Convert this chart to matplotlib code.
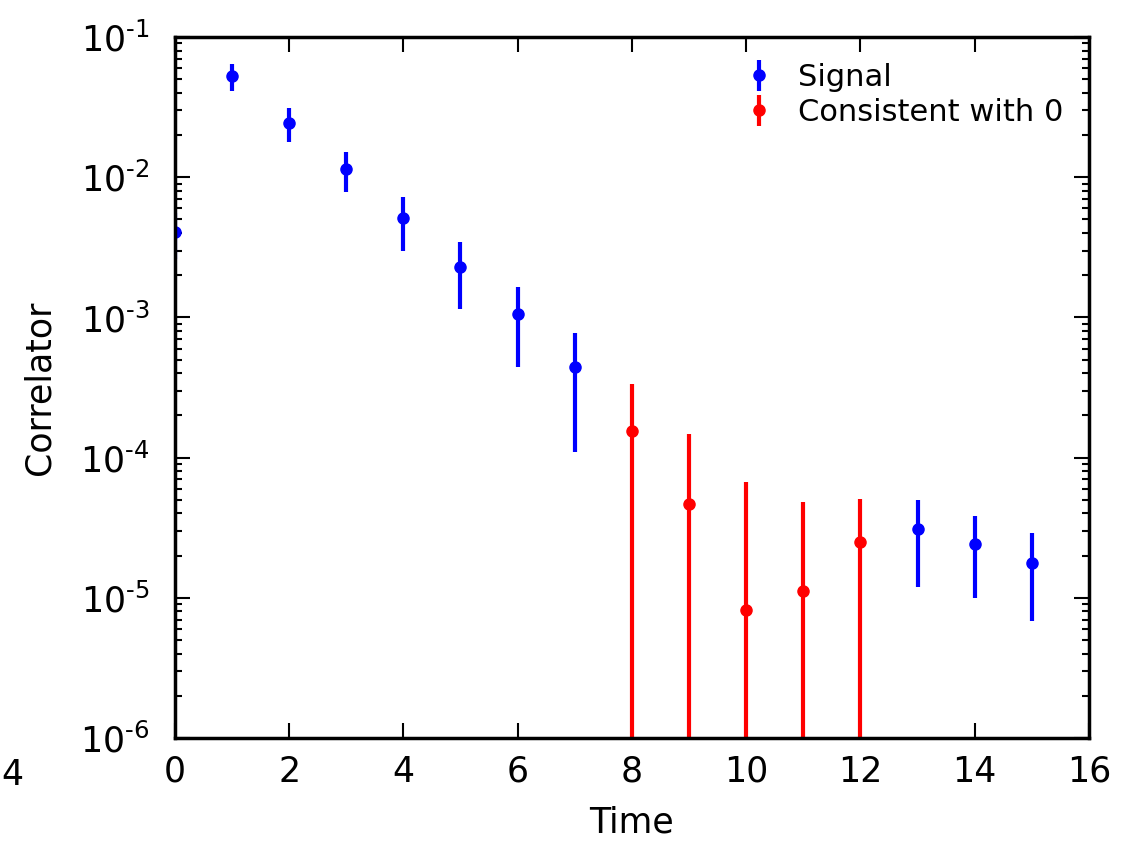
import numpy as np
import matplotlib
matplotlib.use("Agg")
import matplotlib.pyplot as plt
from matplotlib.ticker import FuncFormatter, LogLocator

# correlator values
t_signal = [0, 1, 2, 3, 4, 5, 6, 7, 13, 14, 15]
c_signal = [4.1e-3, 5.3e-2, 2.45e-2, 1.15e-2, 5.1e-3, 2.3e-3, 1.05e-3, 4.4e-4,
            3.1e-5, 2.42e-5, 1.78e-5]
e_signal = [1.5e-3, 1.15e-2, 6.7e-3, 3.7e-3, 2.1e-3, 1.15e-3, 6.1e-4, 3.3e-4,
            1.9e-5, 1.42e-5, 1.1e-5]

t_zero = [8, 9, 10, 11, 12]
c_zero = [1.55e-4, 4.7e-5, 8.2e-6, 1.12e-5, 2.5e-5]
e_zero = [1.78e-4, 1.0e-4, 5.9e-5, 3.7e-5, 2.55e-5]

plt.rcParams['font.family'] = 'DejaVu Sans'

fig = plt.figure(figsize=(11.35, 8.42), dpi=100)
ax = fig.add_axes([0.154, 0.1235, 0.8055, 0.8325])

ax.errorbar(t_signal, c_signal, yerr=e_signal, fmt='o', color='blue',
            ms=8, elinewidth=3, capsize=0, label='Signal')
ax.errorbar(t_zero, c_zero, yerr=e_zero, fmt='o', color='red',
            ms=8, elinewidth=3, capsize=0, label='Consistent with 0')

ax.set_yscale('log')
ax.set_xlim(0, 16)
ax.set_ylim(1e-6, 1e-1)
ax.set_xticks(np.arange(0, 17, 2))
ax.yaxis.set_major_locator(LogLocator(base=10))
ax.yaxis.set_minor_locator(LogLocator(base=10, subs=np.arange(2, 10)))
ax.yaxis.set_major_formatter(
    FuncFormatter(lambda v, pos: '$10^{\\text{-%d}}$' % round(-np.log10(v))))

for s in ax.spines.values():
    s.set_linewidth(2.5)
ax.tick_params(which='both', direction='in', top=True, right=True,
               labelsize=25)
ax.tick_params(which='major', length=11, width=1.5)
ax.tick_params(which='minor', length=5, width=1.5)
ax.tick_params(axis='x', pad=12)
ax.tick_params(axis='y', pad=18)

ax.set_xlabel('Time', fontsize=25, labelpad=12)
ax.set_ylabel('Correlator', fontsize=25, labelpad=17)

ax.legend(loc='upper right', frameon=False, numpoints=1, fontsize=22,
          handlelength=1.5, handletextpad=0.5, borderaxespad=0.45,
          labelspacing=0.2)

# stray tick label at the left edge of the original image
fig.text(0.001, 1 - 758 / 842, '4', ha='left', va='top', fontsize=25)

fig.savefig('out.png', dpi=100)
